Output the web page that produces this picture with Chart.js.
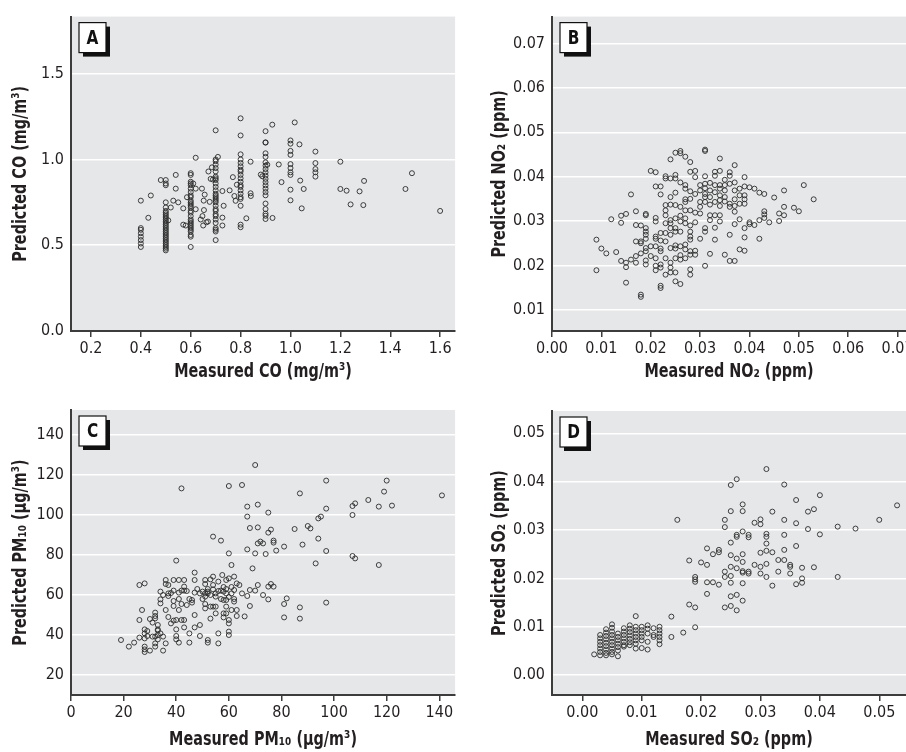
<!DOCTYPE html>
<html>
<head>
<meta charset="utf-8">
<script src="https://cdn.jsdelivr.net/npm/chart.js@4.4.1/dist/chart.umd.min.js"></script>
<style>
  html, body { margin: 0; padding: 0; background: #fff; width: 906px; height: 752px; overflow: hidden; }
  canvas { position: absolute; }
</style>
</head>
<body>
<canvas id="chartA" width="460" height="390" style="left:0;top:0;width:460px;height:390px"></canvas>
<canvas id="chartB" width="462" height="390" style="left:460px;top:0;width:462px;height:390px"></canvas>
<canvas id="chartC" width="460" height="362" style="left:0;top:390px;width:460px;height:362px"></canvas>
<canvas id="chartD" width="462" height="362" style="left:460px;top:390px;width:462px;height:362px"></canvas>
<script>
// A: CO (mg/m3)
const coMeasured = [
  0.4, 0.4, 0.4, 0.4, 0.4, 0.4, 0.4, 0.4,
  0.44, 0.43, 0.48,
  0.5, 0.5, 0.5, 0.5, 0.5, 0.5, 0.5, 0.5, 0.5, 0.5,
  0.5, 0.5, 0.5, 0.5, 0.5, 0.5, 0.5, 0.5, 0.5, 0.5,
  0.5, 0.5, 0.5, 0.5, 0.5, 0.5, 0.5, 0.5, 0.5,
  0.51, 0.52, 0.53, 0.54, 0.54, 0.55, 0.57, 0.57, 0.58, 0.585,
  0.6, 0.6, 0.6, 0.6, 0.6, 0.6, 0.6, 0.6, 0.6, 0.6,
  0.6, 0.6, 0.6, 0.6, 0.6, 0.6, 0.6, 0.6, 0.6, 0.6,
  0.6, 0.6, 0.6, 0.6, 0.6, 0.6, 0.6, 0.6,
  0.61, 0.62, 0.62, 0.62, 0.64, 0.645, 0.647, 0.65, 0.652, 0.653,
  0.656, 0.663, 0.669, 0.671, 0.676, 0.68, 0.685, 0.689,
  0.7, 0.7, 0.7, 0.7, 0.7, 0.7, 0.7, 0.7, 0.7, 0.7,
  0.7, 0.7, 0.7, 0.7, 0.7, 0.7, 0.7, 0.7, 0.7, 0.7,
  0.7, 0.7, 0.7, 0.7, 0.7, 0.7, 0.7, 0.7, 0.7,
  0.709, 0.727, 0.727, 0.727, 0.732, 0.756, 0.769, 0.775, 0.78, 0.785,
  0.8, 0.8, 0.8, 0.8, 0.8, 0.8, 0.8, 0.8, 0.8, 0.8,
  0.8, 0.8, 0.8, 0.8, 0.8, 0.8, 0.8, 0.8, 0.8, 0.8,
  0.823, 0.84, 0.84, 0.841, 0.881, 0.887,
  0.9, 0.9, 0.9, 0.9, 0.9, 0.9, 0.9, 0.9, 0.9, 0.9,
  0.9, 0.9, 0.9, 0.9, 0.9, 0.9, 0.9, 0.9, 0.9, 0.9,
  0.9,
  0.907, 0.927, 0.928, 0.953, 0.964,
  1.0, 1.0, 1.0, 1.0, 1.0, 1.0, 1.0, 1.0, 1.0, 1.0,
  1.017, 1.036, 1.039, 1.045, 1.053,
  1.1, 1.1, 1.1, 1.1, 1.1,
  1.2, 1.2, 1.225, 1.241, 1.277, 1.292, 1.295, 1.461, 1.487, 1.6
];
const coPredicted = [
  0.49, 0.51, 0.53, 0.55, 0.57, 0.59, 0.60, 0.76,
  0.79, 0.66, 0.88,
  0.47, 0.48, 0.49, 0.50, 0.51, 0.52, 0.53, 0.54, 0.55, 0.56,
  0.57, 0.58, 0.59, 0.60, 0.61, 0.62, 0.63, 0.64, 0.65, 0.66,
  0.67, 0.68, 0.69, 0.70, 0.72, 0.75, 0.85, 0.86, 0.88,
  0.645, 0.72, 0.76, 0.91, 0.83, 0.75, 0.62, 0.715, 0.615, 0.78,
  0.49, 0.55, 0.56, 0.58, 0.59, 0.60, 0.61, 0.62, 0.63, 0.64,
  0.65, 0.67, 0.69, 0.70, 0.72, 0.73, 0.74, 0.75, 0.76, 0.78,
  0.79, 0.81, 0.83, 0.85, 0.86, 0.87, 0.91, 0.92,
  0.86, 1.01, 0.83, 0.71, 0.65, 0.83, 0.67, 0.615, 0.76, 0.705,
  0.795, 0.634, 0.638, 0.93, 0.753, 0.887, 0.954, 0.883,
  0.53, 0.58, 0.59, 0.60, 0.63, 0.65, 0.67, 0.68, 0.70, 0.71,
  0.73, 0.75, 0.76, 0.77, 0.78, 0.79, 0.80, 0.82, 0.84, 0.86,
  0.88, 0.89, 0.90, 0.93, 0.95, 0.97, 0.99, 1.00, 1.17,
  1.015, 0.816, 0.661, 0.615, 0.73, 0.82, 0.897, 0.787, 0.759, 0.853,
  0.605, 0.62, 0.73, 0.77, 0.78, 0.80, 0.82, 0.84, 0.85, 0.87,
  0.89, 0.91, 0.93, 0.94, 0.96, 0.98, 1.00, 1.03, 1.14, 1.24,
  0.657, 0.987, 0.803, 0.787, 0.912, 0.902,
  0.653, 0.672, 0.684, 0.711, 0.743, 0.791, 0.81, 0.83, 0.849, 0.868,
  0.887, 0.906, 0.925, 0.944, 0.964, 0.983, 1.015, 1.036, 1.098, 1.10,
  1.165,
  0.969, 1.203, 0.659, 0.971, 0.868,
  0.762, 0.824, 0.91, 0.925, 0.95, 0.973, 1.027, 1.05, 1.092, 1.111,
  1.216, 1.088, 0.877, 0.715, 0.828,
  0.9, 0.925, 0.944, 0.979, 1.046,
  0.987, 0.828, 0.818, 0.738, 0.814, 0.734, 0.875, 0.828, 0.92, 0.70
];
const coTicksX = [0.2, 0.4, 0.6, 0.8, 1.0, 1.2, 1.4, 1.6];
const coTicksY = [0.0, 0.5, 1.0, 1.5];

// B: NO2 (ppm)
const no2Measured = [
  0.009, 0.009, 0.010, 0.011, 0.012, 0.013, 0.014, 0.014, 0.014, 0.015,
  0.015, 0.015, 0.015, 0.016, 0.016, 0.017, 0.017, 0.017, 0.017, 0.017,
  0.018, 0.018, 0.018, 0.018, 0.018, 0.018, 0.019, 0.019, 0.019, 0.019,
  0.019, 0.019, 0.019, 0.019, 0.019, 0.019, 0.020, 0.020, 0.020, 0.021,
  0.021, 0.021, 0.021, 0.021, 0.021, 0.021, 0.021, 0.021, 0.021, 0.022,
  0.022, 0.022, 0.022, 0.022, 0.022, 0.022, 0.022, 0.022, 0.022, 0.023,
  0.023, 0.023, 0.023, 0.023, 0.023, 0.023, 0.023, 0.023, 0.023, 0.024,
  0.024, 0.024, 0.024, 0.024, 0.024, 0.024, 0.024, 0.024, 0.024, 0.024,
  0.024, 0.025, 0.025, 0.025, 0.025, 0.025, 0.025, 0.025, 0.025, 0.025,
  0.025, 0.025, 0.025, 0.025, 0.026, 0.026, 0.026, 0.026, 0.026, 0.026,
  0.026, 0.026, 0.026, 0.026, 0.026, 0.027, 0.027, 0.027, 0.027, 0.027,
  0.027, 0.027, 0.027, 0.027, 0.027, 0.027, 0.028, 0.028, 0.028, 0.028,
  0.028, 0.028, 0.028, 0.028, 0.028, 0.028, 0.028, 0.028, 0.028, 0.029,
  0.029, 0.029, 0.029, 0.029, 0.029, 0.029, 0.030, 0.030, 0.030, 0.030,
  0.030, 0.030, 0.031, 0.031, 0.031, 0.031, 0.031, 0.031, 0.031, 0.031,
  0.031, 0.031, 0.031, 0.032, 0.032, 0.032, 0.032, 0.032, 0.032, 0.032,
  0.033, 0.033, 0.033, 0.033, 0.033, 0.033, 0.033, 0.033, 0.034, 0.034,
  0.034, 0.034, 0.034, 0.034, 0.034, 0.034, 0.034, 0.035, 0.035, 0.035,
  0.035, 0.035, 0.035, 0.036, 0.036, 0.036, 0.036, 0.036, 0.036, 0.036,
  0.037, 0.037, 0.037, 0.037, 0.037, 0.037, 0.037, 0.037, 0.038, 0.038,
  0.038, 0.038, 0.038, 0.039, 0.039, 0.039, 0.039, 0.039, 0.039, 0.039,
  0.039, 0.040, 0.040, 0.040, 0.041, 0.041, 0.042, 0.042, 0.042, 0.043,
  0.043, 0.043, 0.043, 0.044, 0.045, 0.046, 0.046, 0.047, 0.047, 0.047,
  0.049, 0.050, 0.051, 0.053
];
const no2Predicted = [
  0.0258, 0.0189, 0.0238, 0.0227, 0.0304, 0.0230, 0.0312, 0.0296, 0.0210, 0.0316,
  0.0206, 0.0196, 0.0161, 0.0360, 0.0213, 0.0322, 0.0291, 0.0254, 0.0221, 0.0206,
  0.0290, 0.0254, 0.0250, 0.0227, 0.0134, 0.0129, 0.0316, 0.0313, 0.0284, 0.0276,
  0.0269, 0.0260, 0.0239, 0.0232, 0.0211, 0.0202, 0.0413, 0.0243, 0.0221, 0.0410,
  0.0378, 0.0307, 0.0299, 0.0265, 0.0260, 0.0243, 0.0216, 0.0199, 0.0189, 0.0378,
  0.0360, 0.0273, 0.0256, 0.0238, 0.0232, 0.0202, 0.0195, 0.0154, 0.0149, 0.0401,
  0.0396, 0.0336, 0.0324, 0.0313, 0.0295, 0.0273, 0.0254, 0.0216, 0.0179, 0.0439,
  0.0396, 0.0354, 0.0337, 0.0302, 0.0295, 0.0284, 0.0269, 0.0239, 0.0206, 0.0195,
  0.0184, 0.0454, 0.0404, 0.0396, 0.0364, 0.0336, 0.0306, 0.0284, 0.0276, 0.0245,
  0.0238, 0.0216, 0.0184, 0.0164, 0.0458, 0.0453, 0.0387, 0.0332, 0.0312, 0.0299,
  0.0276, 0.0243, 0.0223, 0.0213, 0.0158, 0.0445, 0.0381, 0.0373, 0.0349, 0.0343,
  0.0324, 0.0306, 0.0295, 0.0247, 0.0236, 0.0216, 0.0433, 0.0411, 0.0367, 0.0350,
  0.0324, 0.0290, 0.0276, 0.0265, 0.0258, 0.0232, 0.0224, 0.0191, 0.0179, 0.0413,
  0.0399, 0.0361, 0.0319, 0.0297, 0.0233, 0.0224, 0.0381, 0.0369, 0.0343, 0.0332,
  0.0317, 0.0260, 0.0401, 0.0461, 0.0458, 0.0384, 0.0374, 0.0361, 0.0354, 0.0343,
  0.0284, 0.0276, 0.0199, 0.0386, 0.0369, 0.0354, 0.0337, 0.0313, 0.0302, 0.0226,
  0.0411, 0.0402, 0.0381, 0.0365, 0.0343, 0.0313, 0.0285, 0.0258, 0.0441, 0.0413,
  0.0381, 0.0373, 0.0358, 0.0347, 0.0334, 0.0313, 0.0299, 0.0393, 0.0381, 0.0369,
  0.0354, 0.0344, 0.0224, 0.0410, 0.0402, 0.0384, 0.0339, 0.0332, 0.0269, 0.0210,
  0.0426, 0.0387, 0.0369, 0.0349, 0.0334, 0.0321, 0.0293, 0.0210, 0.0373, 0.0358,
  0.0339, 0.0304, 0.0236, 0.0399, 0.0378, 0.0358, 0.0349, 0.0339, 0.0284, 0.0263,
  0.0233, 0.0376, 0.0297, 0.0293, 0.0373, 0.0291, 0.0364, 0.0302, 0.0260, 0.0361,
  0.0322, 0.0315, 0.0307, 0.0297, 0.0353, 0.0317, 0.0300, 0.0369, 0.0332, 0.0313,
  0.0330, 0.0322, 0.0381, 0.0349
];
const no2TicksX = [0.00, 0.01, 0.02, 0.03, 0.04, 0.05, 0.06, 0.07];
const no2TicksY = [0.01, 0.02, 0.03, 0.04, 0.05, 0.06, 0.07];

// C: PM10 (ug/m3)
const pmMeasured = [
  19, 22, 24, 26, 26, 26, 27, 28, 28, 28,
  28, 28, 28, 28, 29, 30, 31, 31, 32, 32,
  32, 32, 32, 32, 33, 33, 33, 33, 34, 34,
  34, 34, 35, 35, 36, 36, 36, 36, 37, 37,
  37, 38, 39, 39, 39, 39, 39, 40, 40, 40,
  40, 40, 41, 41, 41, 41, 42, 42, 42, 42,
  43, 43, 43, 43, 43, 44, 45, 45, 46, 46,
  47, 47, 47, 47, 47, 49, 49, 49, 50, 51,
  51, 51, 51, 51, 51, 52, 52, 52, 52, 53,
  53, 53, 54, 54, 54, 54, 54, 55, 55, 55,
  55, 56, 56, 56, 57, 57, 57.5, 58, 58, 58,
  58, 59, 59, 59, 59, 59, 60, 60, 60, 60,
  60, 60, 60, 61, 61, 61, 62, 62, 62, 63,
  63, 63, 64, 65, 65, 66, 67, 67, 67, 67,
  68, 68, 68, 69, 70, 70, 70, 71, 71, 71,
  71, 72, 73, 73, 74, 75, 75, 75, 75, 76,
  76, 77, 77, 77, 78, 81, 81, 81, 82, 85,
  87, 87, 87, 88, 90, 91, 93, 94, 94, 95,
  97, 97, 97, 97, 107, 107, 107, 108, 108, 113,
  117, 117, 119, 120, 122, 141,
  50, 52, 53, 56, 57, 58, 59, 60, 61, 62,
  48, 45, 44, 38, 35, 30, 29, 33, 37, 41
];
const pmPredicted = [
  37.5, 34.2, 36.2, 47.5, 38.7, 65, 52.5, 65.8, 42.8, 40.8,
  38.3, 34.2, 32.8, 31.5, 39.5, 32.2, 39.2, 46.2, 48.3, 51.2,
  49.5, 35.8, 34.2, 39.2, 42.8, 42.2, 40, 37.8, 61.7, 57.8,
  55.8, 40.8, 39.2, 32.2, 67.5, 65.5, 52.5, 35.8, 65, 60.8,
  59.5, 45.8, 67.5, 62.2, 57, 54.5, 47.2, 77.2, 47.5, 42.8,
  39.5, 37.8, 67.5, 61.2, 52.5, 36.2, 113.3, 62.2, 55.5, 47.5,
  67.5, 64.2, 62.2, 43.8, 47.5, 55, 40.8, 36.2, 57.5, 56.2,
  71.2, 67.5, 61.2, 50, 43.8, 45, 39.5, 60.8, 61.7, 67.5,
  65.5, 60.8, 59.2, 55.5, 53.3, 61.7, 60.8, 37.5, 36.2, 67.8,
  54.2, 48.2, 89.2, 69.2, 65, 62.8, 54.2, 60.8, 59.2, 54.2,
  50.8, 66.7, 35.8, 40.8, 87.2, 62.2, 70, 61.7, 57.5, 50.8,
  48.8, 67.5, 60.8, 57.5, 54.2, 50.8, 114.5, 80.8, 68.3, 47.5,
  45.8, 41.7, 40, 75, 60.8, 52.5, 69.2, 62.5, 56.7, 65.8,
  52.5, 49.5, 65, 115, 60.8, 49.3, 104.2, 99.2, 82.8, 59.5,
  93.5, 54.5, 62.5, 73.3, 125, 80.8, 62.2, 105.2, 93.8, 85.8,
  65, 86.7, 85.8, 60, 80.5, 101.2, 91.2, 57.8, 64.2, 92.7,
  65.5, 87.2, 86.2, 64.2, 82.2, 84.2, 55.5, 48.8, 58.3, 93,
  110.8, 53.8, 48.2, 85.2, 94.5, 93.3, 75.8, 98.3, 88.2, 99.2,
  117.2, 103.2, 82, 56.2, 104.5, 100, 79.5, 105.8, 78.3, 107.5,
  104.2, 75, 111.7, 117.2, 104.7, 109.8,
  58, 63, 60, 62, 58, 64, 63, 59, 64, 58,
  63, 58, 62, 61, 60, 48, 42, 45, 49, 58
];
const pmTicksX = [0, 20, 40, 60, 80, 100, 120, 140];
const pmTicksY = [20, 40, 60, 80, 100, 120, 140];

// D: SO2 (ppm)
const so2Measured = [
  0.002,
  0.003, 0.003, 0.003, 0.003, 0.003, 0.003, 0.003,
  0.004, 0.004, 0.004, 0.004, 0.004, 0.004, 0.004, 0.004, 0.004,
  0.005, 0.005, 0.005, 0.005, 0.005, 0.005, 0.005, 0.005, 0.005, 0.005,
  0.006, 0.006, 0.006, 0.006, 0.006, 0.006, 0.006,
  0.007, 0.007, 0.007, 0.007, 0.007, 0.007, 0.007,
  0.008, 0.008, 0.008, 0.008, 0.008, 0.008, 0.008,
  0.009, 0.009, 0.009, 0.009, 0.009, 0.009, 0.009, 0.009,
  0.010, 0.010, 0.010, 0.010, 0.010, 0.010,
  0.011, 0.011, 0.011, 0.011, 0.011,
  0.012, 0.012, 0.012,
  0.013, 0.013, 0.013, 0.013, 0.013, 0.013,
  0.015, 0.015, 0.016, 0.017, 0.018, 0.018, 0.019, 0.019, 0.019, 0.019,
  0.019, 0.020, 0.021, 0.021, 0.021, 0.021, 0.022, 0.022, 0.023, 0.023,
  0.023, 0.024, 0.024, 0.024, 0.024, 0.024, 0.025, 0.025, 0.025, 0.025,
  0.025, 0.025, 0.025, 0.025, 0.025, 0.026, 0.026, 0.026, 0.026, 0.026,
  0.026, 0.026, 0.027, 0.027, 0.027, 0.027, 0.027, 0.027, 0.027, 0.027,
  0.027, 0.028, 0.028, 0.028, 0.028, 0.029, 0.029, 0.030, 0.030, 0.030,
  0.030, 0.030, 0.031, 0.031, 0.031, 0.031, 0.031, 0.031, 0.031, 0.032,
  0.032, 0.032, 0.033, 0.033, 0.034, 0.034, 0.034, 0.034, 0.034, 0.035,
  0.035, 0.035, 0.036, 0.036, 0.036, 0.036, 0.037, 0.037, 0.037, 0.038,
  0.038, 0.039, 0.039, 0.040, 0.040, 0.043, 0.043, 0.046, 0.050, 0.053
];
const so2Predicted = [
  0.0043,
  0.0041, 0.0048, 0.0055, 0.0062, 0.0069, 0.0076, 0.0083,
  0.0095, 0.0088, 0.0081, 0.0074, 0.0067, 0.0060, 0.0053, 0.0046, 0.0041,
  0.0105, 0.0098, 0.0090, 0.0083, 0.0076, 0.0069, 0.0062, 0.0055, 0.0048, 0.0043,
  0.0086, 0.0079, 0.0072, 0.0065, 0.0058, 0.0051, 0.0039,
  0.0097, 0.0090, 0.0083, 0.0076, 0.0069, 0.0062, 0.0059,
  0.0103, 0.0096, 0.0089, 0.0082, 0.0075, 0.0068, 0.0062,
  0.0122, 0.0100, 0.0093, 0.0086, 0.0079, 0.0072, 0.0065, 0.0055,
  0.0100, 0.0093, 0.0086, 0.0079, 0.0072, 0.0056,
  0.0103, 0.0096, 0.0086, 0.0069, 0.0053,
  0.0097, 0.0083, 0.0079,
  0.0100, 0.0093, 0.0086, 0.0079, 0.0072, 0.0064,
  0.0121, 0.0079, 0.0321, 0.0088, 0.0237, 0.0146, 0.0203, 0.0198, 0.0193, 0.0140,
  0.0099, 0.0233, 0.0262, 0.0228, 0.0192, 0.0168, 0.0250, 0.0192, 0.0259, 0.0254,
  0.0187, 0.0321, 0.0306, 0.0214, 0.0203, 0.0140, 0.0393, 0.0339, 0.0274, 0.0248,
  0.0224, 0.0205, 0.0191, 0.0163, 0.0143, 0.0405, 0.0290, 0.0286, 0.0241, 0.0221,
  0.0166, 0.0134, 0.0353, 0.0339, 0.0297, 0.0250, 0.0234, 0.0215, 0.0212, 0.0190,
  0.0154, 0.0290, 0.0285, 0.0214, 0.0210, 0.0315, 0.0228, 0.0322, 0.0312, 0.0253,
  0.0224, 0.0210, 0.0426, 0.0292, 0.0286, 0.0272, 0.0257, 0.0230, 0.0203, 0.0338,
  0.0254, 0.0185, 0.0238, 0.0214, 0.0394, 0.0321, 0.0290, 0.0259, 0.0238, 0.0228,
  0.0224, 0.0210, 0.0362, 0.0314, 0.0267, 0.0188, 0.0222, 0.0200, 0.0191, 0.0338,
  0.0302, 0.0343, 0.0223, 0.0372, 0.0291, 0.0307, 0.0203, 0.0303, 0.0321, 0.0351
];
const so2TicksX = [0.00, 0.01, 0.02, 0.03, 0.04, 0.05];
const so2TicksY = [0.00, 0.01, 0.02, 0.03, 0.04, 0.05];

const FONT = "'DejaVu Sans Condensed', 'Liberation Sans Narrow', sans-serif";
Chart.defaults.font.family = FONT;
Chart.defaults.color = '#231f20';

const AXIS = '#3c3c3c';

// grey plot area
const plotBackground = {
  id: 'plotBackground',
  beforeDraw(chart) {
    const { ctx, chartArea: a } = chart;
    ctx.save();
    ctx.fillStyle = '#e6e7e8';
    ctx.fillRect(a.left, a.top, a.right - a.left, a.bottom - a.top);
    ctx.restore();
  }
};

// boxed panel letter with drop shadow
const panelLetter = {
  id: 'panelLetter',
  afterDraw(chart, args, opts) {
    const { ctx, chartArea: a } = chart;
    const x = a.left + 8, y = a.top + 6, w = 27, h = 30;
    ctx.save();
    ctx.fillStyle = '#111';
    ctx.fillRect(x + 4, y + 4, w, h);
    ctx.fillStyle = '#fff';
    ctx.fillRect(x, y, w, h);
    ctx.strokeStyle = '#111';
    ctx.lineWidth = 1.2;
    ctx.strokeRect(x, y, w, h);
    ctx.fillStyle = '#111';
    ctx.font = 'bold 20px ' + FONT;
    ctx.textAlign = 'center';
    ctx.textBaseline = 'middle';
    ctx.translate(x + w / 2, y + h / 2 + 1);
    ctx.scale(0.85, 1);
    ctx.fillText(opts.text, 0, 0);
    ctx.restore();
  }
};

// condensed bold axis titles (the source uses a condensed face)
const axisTitles = {
  id: 'axisTitles',
  afterDraw(chart, args, o) {
    const { ctx, chartArea: a } = chart;
    ctx.save();
    ctx.fillStyle = '#231f20';
    ctx.font = 'bold 20px ' + FONT;
    ctx.textAlign = 'center';
    ctx.textBaseline = 'middle';
    ctx.save();
    ctx.translate((a.left + a.right) / 2, chart.height - o.xFromBottom);
    ctx.scale(0.8, 1);
    ctx.fillText(o.x, 0, 0);
    ctx.restore();
    ctx.translate(o.yCenter, (a.top + a.bottom) / 2);
    ctx.rotate(-Math.PI / 2);
    ctx.scale(0.8, 1);
    ctx.fillText(o.y, 0, 0);
    ctx.restore();
  }
};

function pairs(xs, ys) {
  return xs.map((x, i) => ({ x: x, y: ys[i] }));
}

function makePanel(id, o) {
  new Chart(document.getElementById(id), {
    type: 'scatter',
    data: {
      datasets: [{
        data: pairs(o.xs, o.ys),
        pointRadius: 2.5,
        pointBorderWidth: 0.9,
        pointBorderColor: '#2b2b2b',
        pointBackgroundColor: 'rgba(0,0,0,0)'
      }]
    },
    options: {
      responsive: false,
      animation: false,
      layout: { padding: o.padding },
      plugins: {
        legend: { display: false },
        tooltip: { enabled: false },
        panelLetter: { text: o.letter },
        axisTitles: { x: o.xTitle, y: o.yTitle, xFromBottom: o.xFromBottom, yCenter: o.yCenter }
      },
      scales: {
        x: {
          type: 'linear',
          min: o.xMin, max: o.xMax,
          afterBuildTicks: s => { s.ticks = o.xTicks.map(v => ({ value: v })); },
          afterFit: s => { s.height = o.xH; },
          ticks: { autoSkip: false, maxRotation: 0, padding: 2, font: { size: 16 },
                   callback: v => Number(v).toFixed(o.xDec) },
          grid: { drawOnChartArea: false, drawTicks: true, tickLength: 6, color: AXIS, lineWidth: 1.5 },
          border: { display: true, color: AXIS, width: 2 },
          title: { display: false }
        },
        y: {
          type: 'linear',
          min: o.yMin, max: o.yMax,
          afterBuildTicks: s => { s.ticks = o.yTicks.map(v => ({ value: v })); },
          afterFit: s => { s.width = o.yW; },
          ticks: { autoSkip: false, padding: 7, font: { size: 16 },
                   callback: v => Number(v).toFixed(o.yDec) },
          grid: {
            drawTicks: false, lineWidth: 1.5,
            color: c => (c.tick && Math.abs(c.tick.value - o.yMin) < 1e-9) ? 'rgba(0,0,0,0)' : '#ffffff'
          },
          border: { display: true, color: AXIS, width: 2 },
          title: { display: false }
        }
      }
    },
    plugins: [plotBackground, panelLetter, axisTitles]
  });
}

makePanel('chartA', {
  letter: 'A', xs: coMeasured, ys: coPredicted,
  xMin: 0.12, xMax: 1.66, yMin: 0, yMax: 1.833,
  xTicks: coTicksX, yTicks: coTicksY, xDec: 1, yDec: 1,
  xTitle: 'Measured CO (mg/m³)', yTitle: 'Predicted CO (mg/m³)',
  padding: { top: 12, right: 4, left: 0, bottom: 0 },
  xH: 59, yW: 71, xFromBottom: 18, yCenter: 21
});

makePanel('chartB', {
  letter: 'B', xs: no2Measured, ys: no2Predicted,
  xMin: 0, xMax: 0.0717, yMin: 0.0052, yMax: 0.0761,
  xTicks: no2TicksX, yTicks: no2TicksY, xDec: 2, yDec: 2,
  xTitle: 'Measured NO₂ (ppm)', yTitle: 'Predicted NO₂ (ppm)',
  padding: { top: 12, right: 16, left: 0, bottom: 0 },
  xH: 59, yW: 92, xFromBottom: 18, yCenter: 40
});

makePanel('chartC', {
  letter: 'C', xs: pmMeasured, ys: pmPredicted,
  xMin: 0, xMax: 146, yMin: 10, yMax: 152.5,
  xTicks: pmTicksX, yTicks: pmTicksY, xDec: 0, yDec: 0,
  xTitle: 'Measured PM₁₀ (μg/m³)', yTitle: 'Predicted PM₁₀ (μg/m³)',
  padding: { top: 20, right: 3, left: 0, bottom: 0 },
  xH: 57, yW: 71, xFromBottom: 12, yCenter: 21
});

makePanel('chartD', {
  letter: 'D', xs: so2Measured, ys: so2Predicted,
  xMin: -0.0051, xMax: 0.0545, yMin: -0.0041, yMax: 0.0546,
  xTicks: so2TicksX, yTicks: so2TicksY, xDec: 2, yDec: 2,
  xTitle: 'Measured SO₂ (ppm)', yTitle: 'Predicted SO₂ (ppm)',
  padding: { top: 21, right: 16, left: 0, bottom: 0 },
  xH: 57, yW: 92, xFromBottom: 12, yCenter: 40
});
</script>
</body>
</html>
